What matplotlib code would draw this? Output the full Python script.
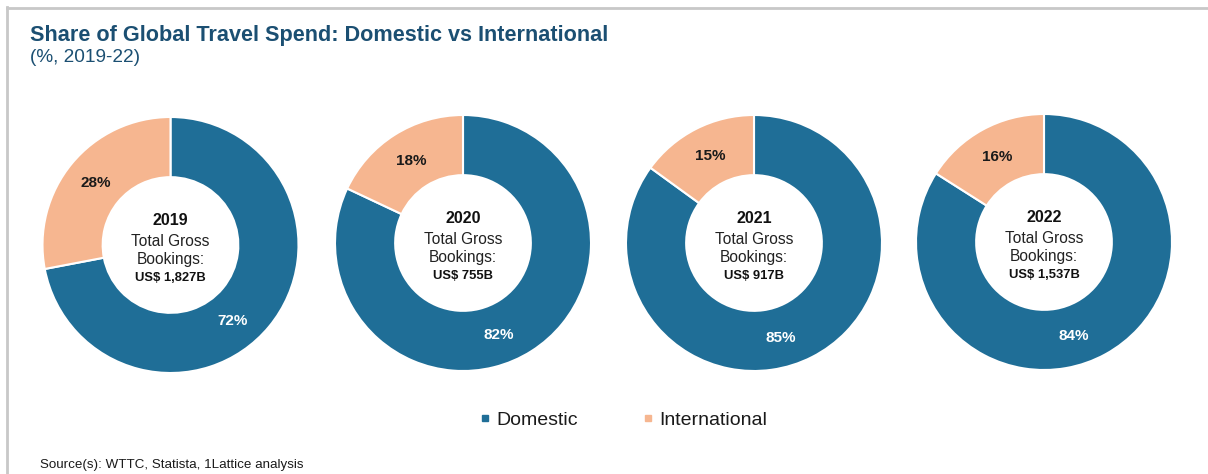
import numpy as np
import matplotlib
matplotlib.use("Agg")
import matplotlib.pyplot as plt
from matplotlib.lines import Line2D

plt.rcParams["font.family"] = ["Liberation Sans", "DejaVu Sans"]

# Share of travel spend by year (%)
years = ["2019", "2020", "2021", "2022"]
domestic = [72, 82, 85, 84]
international = [28, 18, 15, 16]
gross_bookings = ["US$ 1,827B", "US$ 755B", "US$ 917B", "US$ 1,537B"]
series_names = ["Domestic", "International"]

DOM_COLOR = "#1F6E97"
INT_COLOR = "#F6B690"
TITLE_COLOR = "#1B4F72"

W, H = 1208, 474
fig = plt.figure(figsize=(W / 100, H / 100), dpi=100)
fig.patch.set_facecolor("white")

# light frame along the left and top edges
fig.add_artist(Line2D([7 / W, 7 / W], [0, 1 - 7 / H], transform=fig.transFigure,
                      color="#C8C8C8", lw=2))
fig.add_artist(Line2D([7 / W, 1], [1 - 8 / H, 1 - 8 / H], transform=fig.transFigure,
                      color="#C8C8C8", lw=2))

fig.text(30 / W, 1 - 36 / H, "Share of Global Travel Spend: Domestic vs International",
         fontsize=15.6, fontweight="bold", color=TITLE_COLOR, va="center", ha="left")
fig.text(30 / W, 1 - 58 / H, "(%, 2019-22)", fontsize=13.7, color=TITLE_COLOR,
         va="center", ha="left")

centers = [(170.5, 245), (463, 243), (754, 243), (1044, 242)]
R = 128  # outer radius in pixels

for i, year in enumerate(years):
    cx, cy = centers[i]
    ax = fig.add_axes([(cx - R) / W, 1 - (cy + R) / H, 2 * R / W, 2 * R / H])
    wedges, _ = ax.pie([domestic[i], international[i]],
                       colors=[DOM_COLOR, INT_COLOR], startangle=90,
                       counterclock=False, radius=1.0,
                       wedgeprops=dict(width=0.47, edgecolor="white", linewidth=1.5))
    ax.set_xlim(-1, 1)
    ax.set_ylim(-1, 1)
    ax.set_aspect("equal")
    ax.axis("off")

    # percentage labels placed along the ring
    vals = [domestic[i], international[i]]
    for j, w in enumerate(wedges):
        mid = 0.5 * (w.theta1 + w.theta2)
        if j == 0:
            mid -= 11
            r, col = 0.77, "white"
        else:
            r, col = 0.76, "#1A1A1A"
        ax.text(r * np.cos(np.radians(mid)), r * np.sin(np.radians(mid)),
                f"{vals[j]}%", ha="center", va="center", fontsize=11,
                fontweight="bold", color=col)

    ax.text(0, 0.19, year, ha="center", va="center", fontsize=11.5,
            fontweight="bold", color="#111111")
    ax.text(0, 0.03, "Total Gross", ha="center", va="center", fontsize=11.2,
            color="#222222")
    ax.text(0, -0.115, "Bookings:", ha="center", va="center", fontsize=11.2,
            color="#222222")
    ax.text(0, -0.26, gross_bookings[i], ha="center", va="center", fontsize=9.4,
            fontweight="bold", color="#111111")

# legend
handles = [Line2D([], [], marker="s", linestyle="none", markersize=5,
                  markerfacecolor=c, markeredgecolor=c)
           for c in (DOM_COLOR, INT_COLOR)]
fig.legend(handles, series_names, loc="center", bbox_to_anchor=(623 / W, 1 - 420 / H),
           ncol=2, frameon=False, fontsize=14, handlelength=0.6, handletextpad=0.3,
           columnspacing=3.3, labelcolor="#1A1A1A")

fig.text(40 / W, 1 - 465 / H, "Source(s): WTTC, Statista, 1Lattice analysis",
         fontsize=9.6, color="#1A1A1A", va="center", ha="left")

fig.savefig("out.png", dpi=100, facecolor="white")
